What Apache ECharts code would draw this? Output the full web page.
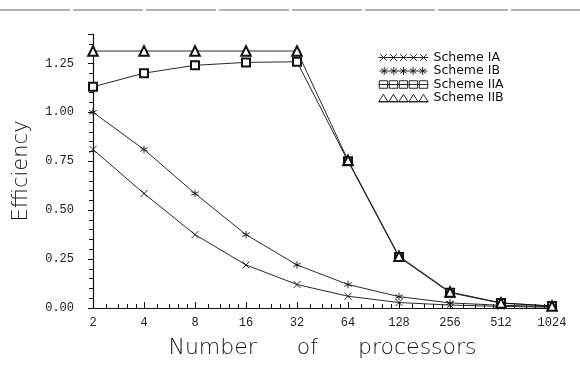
<!DOCTYPE html>
<html>
<head>
<meta charset="utf-8">
<script src="https://cdn.jsdelivr.net/npm/echarts@6/dist/echarts.min.js"></script>
<style>
  html, body { margin: 0; padding: 0; background: #fff; }
  #chart { width: 580px; height: 365px; }
</style>
</head>
<body>
<div id="chart"></div>
<script>
// Efficiency vs. number of processors, four schemes, log2 x axis.
const processors = [2, 4, 8, 16, 32, 64, 128, 256, 512, 1024]
const schemeIA  = [0.81, 0.585, 0.375, 0.22, 0.12, 0.06, 0.028, 0.015, 0.008, 0.004]
const schemeIB  = [1.00, 0.81, 0.585, 0.375, 0.22, 0.12, 0.058, 0.026, 0.014, 0.007]
const schemeIIA = [1.13, 1.20, 1.24, 1.255, 1.258, 0.75, 0.26, 0.078, 0.025, 0.01]
const schemeIIB = [1.313, 1.313, 1.313, 1.313, 1.313, 0.755, 0.265, 0.082, 0.026, 0.01]
const yTicks = [0, 0.25, 0.5, 0.75, 1.0, 1.25]

const INK = "#111"

// legend swatch: five markers strung along a line (60x10 box)
const centers = [6, 18, 30, 42, 54]
function swatch(kind) {
  let d = kind === "tri" ? "M0,9.5L60,9.5" : "M0,5L60,5"
  centers.forEach(c => {
    if (kind === "x") d += `M${c - 4},1L${c + 4},9M${c + 4},1L${c - 4},9`
    if (kind === "star") d += `M${c},0L${c},10M${c - 4},2L${c + 4},8M${c + 4},2L${c - 4},8`
    if (kind === "sq") d += `M${c - 5},0.5L${c + 5},0.5L${c + 5},9.5L${c - 5},9.5Z`
    if (kind === "tri") d += `M${c - 5.5},9.5L${c},0.5L${c + 5.5},9.5Z`
  })
  return "path://" + d
}

function pairs(ys) { return processors.map((x, i) => [x, ys[i]]) }

function line(name, ys, symbol, size) {
  return {
    name, type: "line", data: pairs(ys),
    symbol, symbolSize: size,
    lineStyle: { color: INK, width: 0.9 },
    itemStyle: { color: INK, borderColor: INK, borderWidth: 0.9 },
    emphasis: { disabled: true }
  }
}

const chart = echarts.init(document.getElementById("chart"), null, { renderer: "canvas" })
const legendStyle = { color: "rgba(0,0,0,0)", borderColor: INK, borderWidth: 0.9 }
const nameFont = { fontFamily: "DejaVu Sans", fontWeight: 200, color: INK }

chart.setOption({
  animation: false,
  backgroundColor: "#fff",
  graphic: [{
    type: "line", silent: true,
    shape: { x1: 0, y1: 10, x2: 580, y2: 10 },
    style: { stroke: "#9a9a9a", lineWidth: 1.5, lineDash: [70, 3] }
  }],
  grid: { left: 93, right: 28, top: 34, bottom: 57, containLabel: false },
  legend: {
    left: 373, top: 46, orient: "vertical",
    itemWidth: 50, itemHeight: 8, itemGap: 0.5,
    selectedMode: false,
    textStyle: { fontFamily: "DejaVu Sans", fontSize: 12.5, color: INK, lineHeight: 11.5 },
    data: [
      { name: "Scheme IA", icon: swatch("x"), itemStyle: legendStyle },
      { name: "Scheme IB", icon: swatch("star"), itemStyle: legendStyle },
      { name: "Scheme IIA", icon: swatch("sq"), itemStyle: legendStyle },
      { name: "Scheme IIB", icon: swatch("tri"), itemStyle: legendStyle }
    ]
  },
  xAxis: {
    type: "log", logBase: 2, min: processors[0], max: processors[processors.length - 1],
    name: "Number {g|of} processors",
    nameLocation: "middle", nameGap: 29,
    nameTextStyle: Object.assign({ fontSize: 22, padding: [0, 0, 0, 0] }, nameFont, {
      rich: { g: Object.assign({ fontSize: 22, padding: [0, 33, 0, 33] }, nameFont) }
    }),
    axisLine: { lineStyle: { color: INK, width: 1.2 } },
    axisTick: { inside: true, length: 6, lineStyle: { color: INK } },
    minorTick: { show: true, splitNumber: 5, length: 4, lineStyle: { color: INK } },
    splitLine: { show: false },
    axisLabel: {
      margin: 9, fontFamily: "Liberation Mono", fontSize: 12, color: "#222",
      formatter: v => String(Math.round(v))
    }
  },
  yAxis: {
    type: "value", min: 0, max: 1.4, interval: 0.25,
    name: "Efficiency", nameLocation: "middle", nameGap: 61,
    nameTextStyle: Object.assign({ fontSize: 21 }, nameFont),
    axisLine: { show: true, lineStyle: { color: INK, width: 1.2 } },
    axisTick: { show: true, inside: false, length: 5, lineStyle: { color: INK } },
    minorTick: { show: true, splitNumber: 5, length: 4, lineStyle: { color: INK } },
    splitLine: { show: false },
    axisLabel: {
      margin: 19, fontFamily: "Liberation Mono", fontSize: 12, color: "#222",
      showMaxLabel: false,
      formatter: v => yTicks.some(t => Math.abs(t - v) < 1e-6) ? v.toFixed(2) : ""
    }
  },
  tooltip: { show: false },
  series: [
    line("Scheme IA", schemeIA, "path://M0,0L10,10M10,0L0,10", 7),
    line("Scheme IB", schemeIB, "path://M5,0L5,10M0,2.5L10,7.5M10,2.5L0,7.5", 7.5),
    line("Scheme IIA", schemeIIA, "emptyRect", 8),
    line("Scheme IIB", schemeIIB, "emptyTriangle", 9.5)
  ]
})
</script>
</body>
</html>
